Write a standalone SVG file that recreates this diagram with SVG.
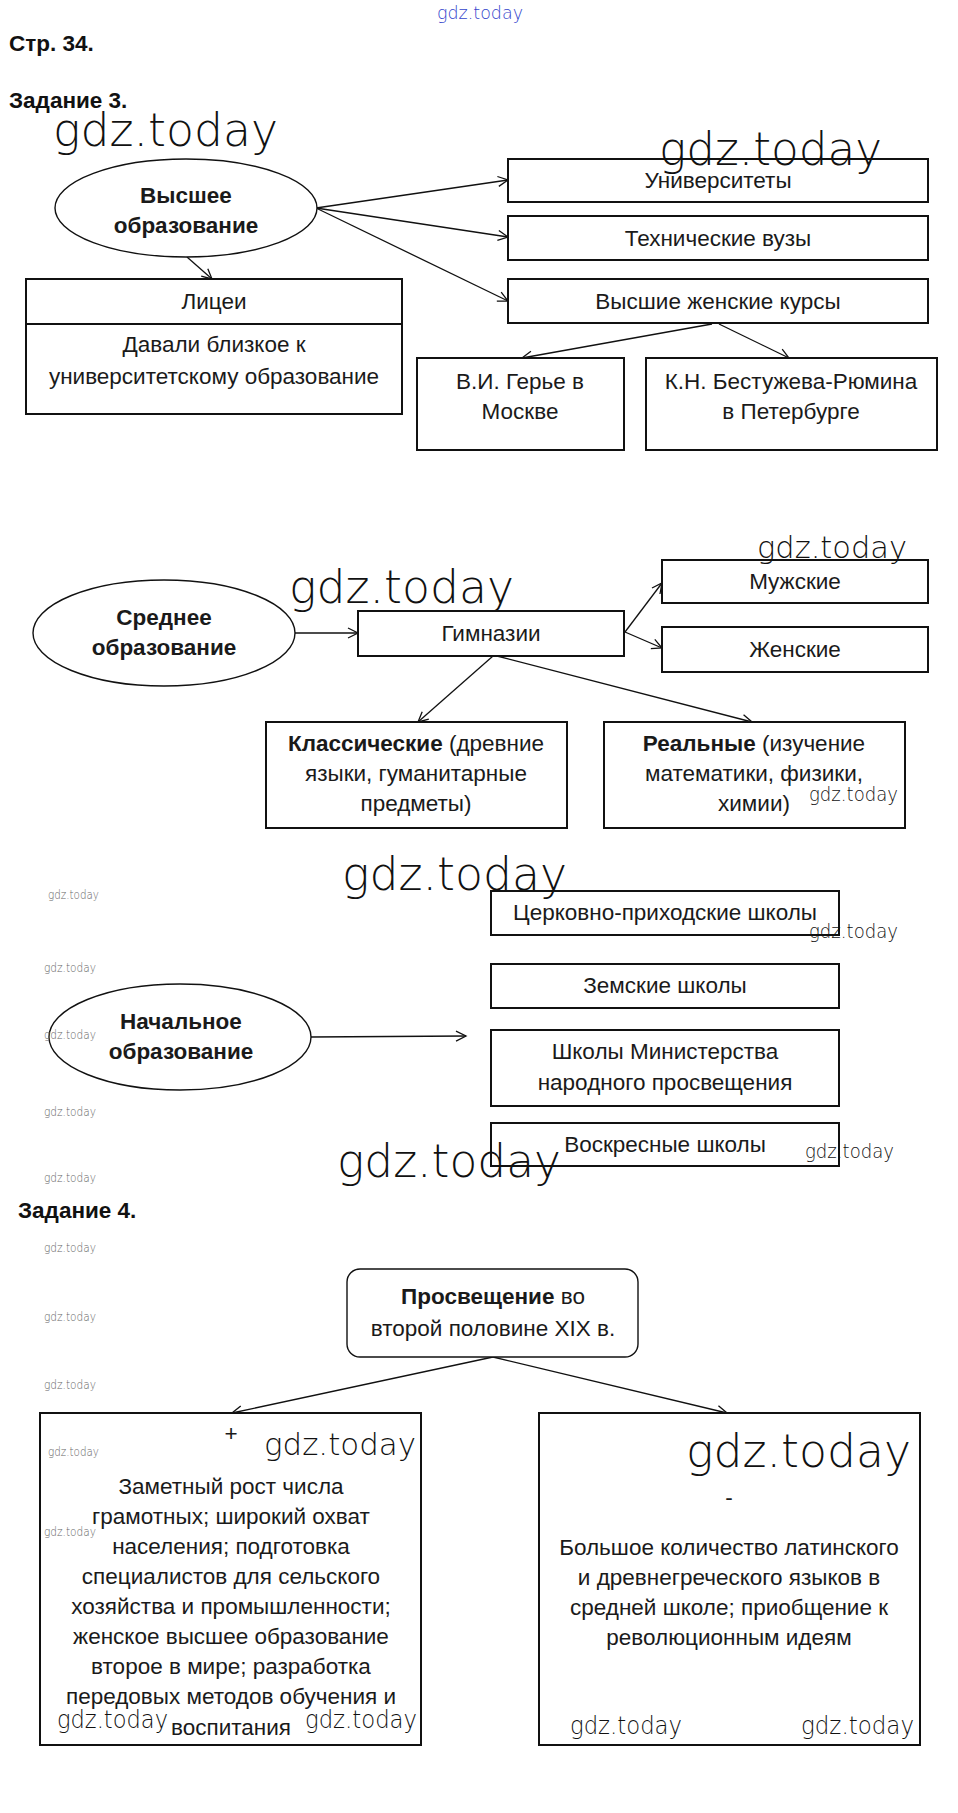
<svg xmlns="http://www.w3.org/2000/svg" width="958" height="1813" viewBox="0 0 958 1813">
<defs>
<marker id="arr" markerUnits="userSpaceOnUse" markerWidth="14" markerHeight="14" refX="11" refY="6" orient="auto">
<path d="M1,1 L11,6 L1,11" fill="none" stroke="#111" stroke-width="1.3"/>
</marker>
<style>
.bx{fill:#fff;stroke:#111;stroke-width:2}
.el{fill:#fff;stroke:#111;stroke-width:1.4}
.t{font-family:"Liberation Sans",Arial,sans-serif;font-size:22.5px;fill:#1a1a1a;text-anchor:middle}
.b{font-weight:bold}
.h{font-family:"Liberation Sans",Arial,sans-serif;font-size:22.5px;font-weight:bold;fill:#111}
.c{fill:none;stroke:#111;stroke-width:1.3;marker-end:url(#arr)}
.w{font-family:"DejaVu Sans",sans-serif;font-weight:200;fill:#111}
.ws{font-family:"DejaVu Sans",sans-serif;font-weight:200;fill:#666;font-size:12px}
</style>
</defs>
<rect width="958" height="1813" fill="#fff"/>

<text x="437" y="19" font-family="DejaVu Sans,sans-serif" font-weight="200" font-size="18" fill="#3344cc" textLength="86" lengthAdjust="spacingAndGlyphs">gdz.today</text>
<text class="h" x="9" y="51">Стр. 34.</text>
<text class="h" x="9" y="108">Задание 3.</text>
<text class="h" x="18" y="1218">Задание 4.</text>

<g id="connectors">
<line class="c" x1="316" y1="208" x2="508" y2="180"/>
<line class="c" x1="316" y1="208" x2="508" y2="237"/>
<line class="c" x1="316" y1="208" x2="508" y2="301"/>
<line class="c" x1="187" y1="257" x2="212" y2="279"/>
<line class="c" x1="712" y1="324" x2="522" y2="358"/>
<line class="c" x1="719" y1="324" x2="789" y2="358"/>
<line class="c" x1="295" y1="633" x2="358" y2="633"/>
<line class="c" x1="625" y1="632" x2="662" y2="583"/>
<line class="c" x1="625" y1="632" x2="662" y2="648"/>
<line class="c" x1="493" y1="656" x2="418" y2="722"/>
<line class="c" x1="497" y1="656" x2="752" y2="722"/>
<line class="c" x1="311" y1="1037" x2="466" y2="1036"/>
<line class="c" x1="493" y1="1357" x2="232" y2="1413"/>
<line class="c" x1="493" y1="1357" x2="727" y2="1413"/>
</g>

<g id="n-vysshee">
<ellipse class="el" cx="186" cy="208" rx="131" ry="49"/>
<text class="t b" x="186" y="203">Высшее</text>
<text class="t b" x="186" y="233">образование</text>
</g>
<g id="n-licei">
<rect class="bx" x="26" y="279" width="376" height="135"/>
<line x1="26" y1="324" x2="402" y2="324" stroke="#111" stroke-width="2"/>
<text class="t" x="214" y="309">Лицеи</text>
<text class="t" x="214" y="352">Давали близкое к</text>
<text class="t" x="214" y="384">университетскому образование</text>
</g>
<g id="n-univ">
<rect class="bx" x="508" y="159" width="420" height="43"/>
<text class="t" x="718" y="188">Университеты</text>
</g>
<g id="n-tech">
<rect class="bx" x="508" y="216" width="420" height="44"/>
<text class="t" x="718" y="246">Технические вузы</text>
</g>
<g id="n-kursy">
<rect class="bx" x="508" y="279" width="420" height="44"/>
<text class="t" x="718" y="309">Высшие женские курсы</text>
</g>
<g id="n-gerie">
<rect class="bx" x="417" y="358" width="207" height="92"/>
<text class="t" x="520" y="389">В.И. Герье в</text>
<text class="t" x="520" y="419">Москве</text>
</g>
<g id="n-bestuzh">
<rect class="bx" x="646" y="358" width="291" height="92"/>
<text class="t" x="791" y="389">К.Н. Бестужева-Рюмина</text>
<text class="t" x="791" y="419">в Петербурге</text>
</g>

<g id="n-srednee">
<ellipse class="el" cx="164" cy="633" rx="131" ry="53"/>
<text class="t b" x="164" y="625">Среднее</text>
<text class="t b" x="164" y="655">образование</text>
</g>
<g id="n-gimn">
<rect class="bx" x="358" y="611" width="266" height="45"/>
<text class="t" x="491" y="641">Гимназии</text>
</g>
<g id="n-muzh">
<rect class="bx" x="662" y="560" width="266" height="43"/>
<text class="t" x="795" y="589">Мужские</text>
</g>
<g id="n-zhen">
<rect class="bx" x="662" y="627" width="266" height="45"/>
<text class="t" x="795" y="657">Женские</text>
</g>
<g id="n-klass">
<rect class="bx" x="266" y="722" width="301" height="106"/>
<text class="t" x="416" y="751"><tspan class="b">Классические</tspan> (древние</text>
<text class="t" x="416" y="781">языки, гуманитарные</text>
<text class="t" x="416" y="811">предметы)</text>
</g>
<g id="n-real">
<rect class="bx" x="604" y="722" width="301" height="106"/>
<text class="t" x="754" y="751"><tspan class="b">Реальные</tspan> (изучение</text>
<text class="t" x="754" y="781">математики, физики,</text>
<text class="t" x="754" y="811">химии)</text>
</g>

<g id="n-nach">
<ellipse class="el" cx="180" cy="1037" rx="131" ry="53"/>
<text class="t b" x="181" y="1029">Начальное</text>
<text class="t b" x="181" y="1059">образование</text>
</g>
<g id="n-cerk">
<rect class="bx" x="491" y="891" width="348" height="44"/>
<text class="t" x="665" y="920">Церковно-приходские школы</text>
</g>
<g id="n-zemsk">
<rect class="bx" x="491" y="964" width="348" height="44"/>
<text class="t" x="665" y="993">Земские школы</text>
</g>
<g id="n-minist">
<rect class="bx" x="491" y="1030" width="348" height="76"/>
<text class="t" x="665" y="1059">Школы Министерства</text>
<text class="t" x="665" y="1090">народного просвещения</text>
</g>
<g id="n-voskr">
<rect class="bx" x="491" y="1123" width="348" height="43"/>
<text class="t" x="665" y="1152">Воскресные школы</text>
</g>

<g id="n-prosv">
<rect x="347" y="1269" width="291" height="88" rx="13" fill="#fff" stroke="#111" stroke-width="1.4"/>
<text class="t" x="493" y="1304"><tspan class="b">Просвещение</tspan> во</text>
<text class="t" x="493" y="1336">второй половине XIX в.</text>
</g>
<g id="n-plus">
<rect class="bx" x="40" y="1413" width="381" height="332"/>
<text class="t" x="231" y="1441">+</text>
<text class="t" x="231" y="1494">Заметный рост числа</text>
<text class="t" x="231" y="1524">грамотных; широкий охват</text>
<text class="t" x="231" y="1554">населения; подготовка</text>
<text class="t" x="231" y="1584">специалистов для сельского</text>
<text class="t" x="231" y="1614">хозяйства и промышленности;</text>
<text class="t" x="231" y="1644">женское высшее образование</text>
<text class="t" x="231" y="1674">второе в мире; разработка</text>
<text class="t" x="231" y="1704">передовых методов обучения и</text>
<text class="t" x="231" y="1735">воспитания</text>
</g>
<g id="n-minus">
<rect class="bx" x="539" y="1413" width="381" height="332"/>
<text class="t" x="729" y="1505">-</text>
<text class="t" x="729" y="1555">Большое количество латинского</text>
<text class="t" x="729" y="1585">и древнегреческого языков в</text>
<text class="t" x="729" y="1615">средней школе; приобщение к</text>
<text class="t" x="729" y="1645">революционным идеям</text>
</g>

<g id="watermarks">
<text class="w" x="53" y="146" font-size="46" textLength="225" lengthAdjust="spacingAndGlyphs">gdz.today</text>
<text class="w" x="659" y="165" font-size="46" textLength="223" lengthAdjust="spacingAndGlyphs">gdz.today</text>
<text class="w" x="289" y="603" font-size="46" textLength="225" lengthAdjust="spacingAndGlyphs">gdz.today</text>
<text class="w" x="757" y="558" font-size="31" textLength="150" lengthAdjust="spacingAndGlyphs">gdz.today</text>
<text class="w" x="809" y="801" font-size="19" textLength="89" lengthAdjust="spacingAndGlyphs">gdz.today</text>
<text class="w" x="342" y="890" font-size="46" textLength="225" lengthAdjust="spacingAndGlyphs">gdz.today</text>
<text class="w" x="809" y="938" font-size="19" textLength="89" lengthAdjust="spacingAndGlyphs">gdz.today</text>
<text class="w" x="337" y="1177" font-size="46" textLength="224" lengthAdjust="spacingAndGlyphs">gdz.today</text>
<text class="w" x="805" y="1158" font-size="19" textLength="89" lengthAdjust="spacingAndGlyphs">gdz.today</text>
<text class="w" x="264" y="1455" font-size="31" textLength="152" lengthAdjust="spacingAndGlyphs">gdz.today</text>
<text class="w" x="686" y="1467" font-size="46" textLength="225" lengthAdjust="spacingAndGlyphs">gdz.today</text>
<text class="w" x="57" y="1728" font-size="24" textLength="111" lengthAdjust="spacingAndGlyphs">gdz.today</text>
<text class="w" x="305" y="1728" font-size="24" textLength="112" lengthAdjust="spacingAndGlyphs">gdz.today</text>
<text class="w" x="570" y="1734" font-size="24" textLength="112" lengthAdjust="spacingAndGlyphs">gdz.today</text>
<text class="w" x="801" y="1734" font-size="24" textLength="113" lengthAdjust="spacingAndGlyphs">gdz.today</text>
<text class="ws" x="48" y="899" textLength="51" lengthAdjust="spacingAndGlyphs">gdz.today</text>
<text class="ws" x="44" y="972" textLength="52" lengthAdjust="spacingAndGlyphs">gdz.today</text>
<text class="ws" x="44" y="1039" textLength="52" lengthAdjust="spacingAndGlyphs">gdz.today</text>
<text class="ws" x="44" y="1116" textLength="52" lengthAdjust="spacingAndGlyphs">gdz.today</text>
<text class="ws" x="44" y="1182" textLength="52" lengthAdjust="spacingAndGlyphs">gdz.today</text>
<text class="ws" x="44" y="1252" textLength="52" lengthAdjust="spacingAndGlyphs">gdz.today</text>
<text class="ws" x="44" y="1321" textLength="52" lengthAdjust="spacingAndGlyphs">gdz.today</text>
<text class="ws" x="44" y="1389" textLength="52" lengthAdjust="spacingAndGlyphs">gdz.today</text>
<text class="ws" x="48" y="1456" textLength="51" lengthAdjust="spacingAndGlyphs">gdz.today</text>
<text class="ws" x="44" y="1536" textLength="52" lengthAdjust="spacingAndGlyphs">gdz.today</text>
</g>
</svg>
